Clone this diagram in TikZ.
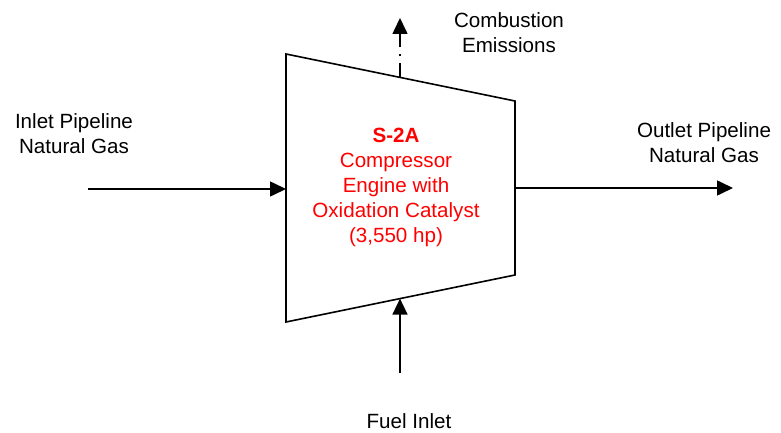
\documentclass[tikz,border=0pt]{standalone}
\usepackage{fontspec}
\setmainfont{Liberation Sans}
\usetikzlibrary{arrows.meta}
\begin{document}
\begin{tikzpicture}[x=1pt,y=-1pt,
  lbl/.style={align=center,font=\fontsize{20.6}{25}\selectfont,inner sep=0pt},
  redlbl/.style={lbl,text=red},
  flow/.style={line width=1.6pt,-{Triangle[length=16pt,width=15pt]}},
  emis/.style={flow,dash pattern=on 14pt off 7pt on 2pt off 7pt},
  body/.style={draw,line width=1.6pt,line join=miter}]
\useasboundingbox (0,0) rectangle (781,433);
% trapezoid corners
\coordinate (tl) at (286,54);
\coordinate (tr) at (515,101);
\coordinate (br) at (515,275);
\coordinate (bl) at (286,322);
\draw[body] (tl) -- (tr) -- (br) -- (bl) -- cycle;
% connection points
\coordinate (inL) at (286,189);
\coordinate (outR) at (515,188);
\coordinate (topM) at (400,77.4);
\coordinate (botM) at (400,298.6);
\coordinate (inS) at (88,189);
\coordinate (outE) at (733,188);
\coordinate (emE) at (400,18);
\coordinate (fuelS) at (400,373);
% labels
\node[redlbl] (eng) at (396,187) {\textbf{S-2A}\\Compressor\\Engine with\\Oxidation Catalyst\\(3,550 hp)};
\node[lbl] (emis) at (509,33) {Combustion\\Emissions};
\node[lbl] (inlet) at (74,134) {Inlet Pipeline\\Natural Gas};
\node[lbl] (outlet) at (704,143) {Outlet Pipeline\\Natural Gas};
\node[lbl] (fuel) at (409,421) {Fuel Inlet};
% connectors
\draw[flow] (inS) -- (inL);
\draw[flow] (outR) -- (outE);
\draw[emis] (topM) -- (emE);
\draw[flow] (fuelS) -- (botM);
\end{tikzpicture}
\end{document}
